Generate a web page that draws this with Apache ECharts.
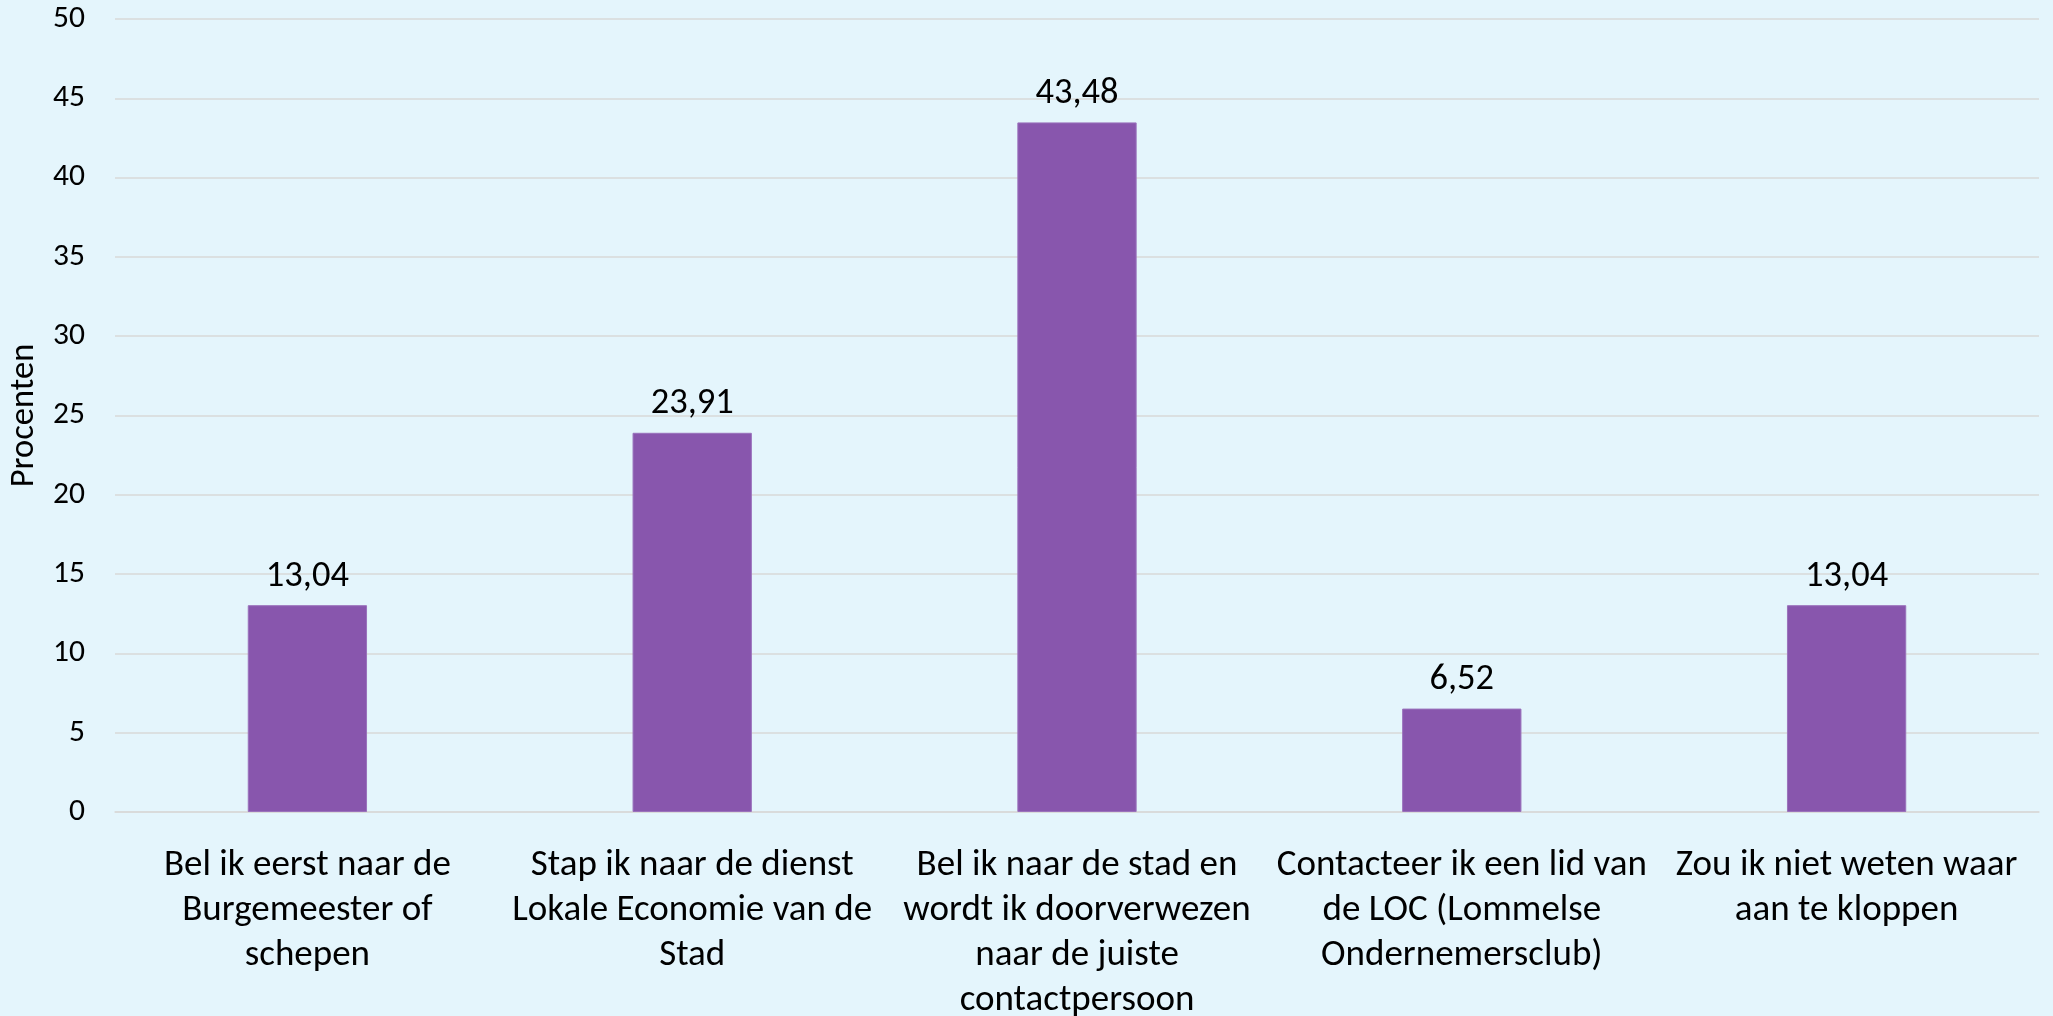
<!DOCTYPE html>
<html>
<head>
<meta charset="utf-8">
<script src="https://cdn.jsdelivr.net/npm/echarts@6/dist/echarts.min.js"></script>
<style>
html,body{margin:0;padding:0;background:#E4F5FC;}
#c{width:2053px;height:1016px;}
</style>
</head>
<body>
<div id="c"></div>
<script>
const categories = [
  "Bel ik eerst naar de\nBurgemeester of\nschepen",
  "Stap ik naar de dienst\nLokale Economie van de\nStad",
  "Bel ik naar de stad en\nwordt ik doorverwezen\nnaar de juiste\ncontactpersoon",
  "Contacteer ik een lid van\nde LOC (Lommelse\nOndernemersclub)",
  "Zou ik niet weten waar\naan te kloppen"
];
const values = [13.04, 23.91, 43.48, 6.52, 13.04];
const yAxisTitle = "Procenten";
const yMin = 0, yMax = 50, yInterval = 5;

const FONT = "Carlito, Calibri, Lato, sans-serif";
const chart = echarts.init(document.getElementById('c'));
chart.setOption({
  backgroundColor: '#E4F5FC',
  animation: false,
  grid: {left: 115, right: 14, top: 19, bottom: 204, containLabel: false, outerBoundsMode: 'none'},
  xAxis: {
    type: 'category',
    data: categories,
    axisLine: {lineStyle: {color: '#D9D9D9', width: 1.5}},
    axisTick: {show: false},
    axisLabel: {
      interval: 0, margin: 31, color: '#000', fontFamily: FONT, fontSize: 37, lineHeight: 45
    }
  },
  yAxis: {
    type: 'value', min: yMin, max: yMax, interval: yInterval,
    name: yAxisTitle, nameLocation: 'middle', nameRotate: 90, nameGap: 71,
    nameTextStyle: {color: '#000', fontFamily: FONT, fontSize: 34.5},
    axisLine: {show: false}, axisTick: {show: false},
    axisLabel: {color: '#000', fontFamily: FONT, fontSize: 31.5, margin: 30},
    splitLine: {lineStyle: {color: '#D9D9D9', width: 1.5}}
  },
  series: [{
    type: 'bar',
    data: values,
    barWidth: '31%',
    itemStyle: {color: '#8856AD', borderColor: '#9A72BC', borderWidth: 1},
    label: {
      show: true, position: 'top', distance: 10, color: '#000',
      fontFamily: FONT, fontSize: 36.5,
      formatter: p => p.value.toFixed(2).replace('.', ',')
    }
  }]
});
</script>
</body>
</html>
